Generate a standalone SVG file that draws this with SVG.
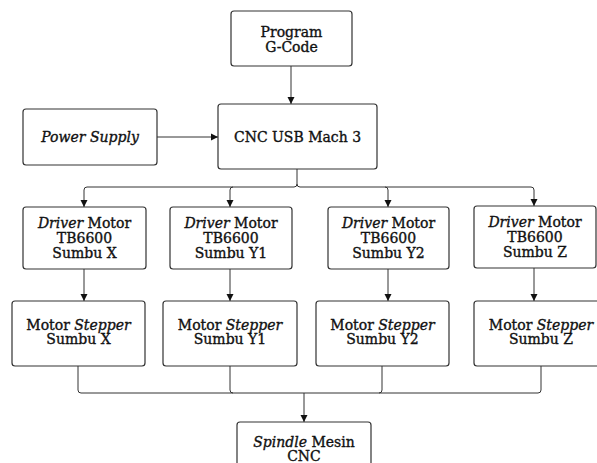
<svg xmlns="http://www.w3.org/2000/svg" width="597" height="463" viewBox="0 0 597 463">
<style>
.box{fill:#fff;stroke:#333;stroke-width:1.2}
.t{font-family:"DejaVu Serif","Liberation Serif",serif;font-size:14px;fill:#111;stroke:#111;stroke-width:0.35;text-anchor:middle}
.c{fill:none;stroke:#333;stroke-width:1}
</style>
<defs>
<marker id="ah" markerWidth="8" markerHeight="8" refX="7" refY="4" orient="auto" markerUnits="userSpaceOnUse">
<path d="M0,0.5 L7,4 L0,7.5 z" fill="#111"/>
</marker>
</defs>
<rect width="597" height="463" fill="#fff"/>
<g id="connectors">
<path class="c" d="M291,66 V104" marker-end="url(#ah)"/>
<path class="c" d="M157,137 H218" marker-end="url(#ah)"/>
<path class="c" d="M297,169 V184 Q297,187 294,187 H87 Q84,187 84,190 V207" marker-end="url(#ah)"/>
<path class="c" d="M297,184 Q297,187 300,187 H531 Q534,187 534,190 V206" marker-end="url(#ah)"/>
<path class="c" d="M230,190 Q230,187 233,187" />
<path class="c" d="M230,190 V207" marker-end="url(#ah)"/>
<path class="c" d="M385,187 Q388,187 388,190 V207" marker-end="url(#ah)"/>
<path class="c" d="M84,269 V301" marker-end="url(#ah)"/>
<path class="c" d="M230,269 V301" marker-end="url(#ah)"/>
<path class="c" d="M388,269 V301" marker-end="url(#ah)"/>
<path class="c" d="M534,268 V301" marker-end="url(#ah)"/>
<path class="c" d="M78,366 V390 Q78,393 81,393 H538 Q541,393 541,390 V366"/>
<path class="c" d="M230,366 V390 Q230,393 233,393"/>
<path class="c" d="M382,366 V390 Q382,393 379,393"/>
<path class="c" d="M304,393 V422" stroke-width="2" marker-end="url(#ah)"/>
</g>
<g id="program"><rect class="box" x="231" y="11" width="121" height="55" rx="3"/><text class="t" x="291.5" y="37">Program</text><text class="t" x="291.5" y="52">G-Code</text></g>
<g id="power"><rect class="box" x="23" y="109" width="134" height="56" rx="3"/><text class="t" x="90" y="142" font-style="italic">Power Supply</text></g>
<g id="cnc"><rect class="box" x="218" y="104" width="159" height="65" rx="3"/><text class="t" x="297.5" y="142">CNC USB Mach 3</text></g>
<g id="driverX"><rect class="box" x="23" y="207" width="123" height="62" rx="3"/><text class="t" x="84.5" y="228"><tspan font-style="italic">Driver</tspan> Motor</text><text class="t" x="84.5" y="243">TB6600</text><text class="t" x="84.5" y="258">Sumbu X</text></g>
<g id="driverY1"><rect class="box" x="170" y="207" width="122" height="62" rx="3"/><text class="t" x="231" y="228"><tspan font-style="italic">Driver</tspan> Motor</text><text class="t" x="231" y="243">TB6600</text><text class="t" x="231" y="258">Sumbu Y1</text></g>
<g id="driverY2"><rect class="box" x="328" y="207" width="121" height="62" rx="3"/><text class="t" x="388.5" y="228"><tspan font-style="italic">Driver</tspan> Motor</text><text class="t" x="388.5" y="243">TB6600</text><text class="t" x="388.5" y="258">Sumbu Y2</text></g>
<g id="driverZ"><rect class="box" x="474" y="206" width="122" height="62" rx="3"/><text class="t" x="535" y="227"><tspan font-style="italic">Driver</tspan> Motor</text><text class="t" x="535" y="242">TB6600</text><text class="t" x="535" y="257">Sumbu Z</text></g>
<g id="stepperX"><rect class="box" x="12" y="301" width="133" height="65" rx="3"/><text class="t" x="78.5" y="330">Motor <tspan font-style="italic">Stepper</tspan></text><text class="t" x="78.5" y="344">Sumbu X</text></g>
<g id="stepperY1"><rect class="box" x="163" y="301" width="134" height="65" rx="3"/><text class="t" x="230" y="330">Motor <tspan font-style="italic">Stepper</tspan></text><text class="t" x="230" y="344">Sumbu Y1</text></g>
<g id="stepperY2"><rect class="box" x="316" y="301" width="133" height="65" rx="3"/><text class="t" x="382.5" y="330">Motor <tspan font-style="italic">Stepper</tspan></text><text class="t" x="382.5" y="344">Sumbu Y2</text></g>
<g id="stepperZ"><rect class="box" x="474" y="301" width="130" height="65" rx="3"/><text class="t" x="541" y="330">Motor <tspan font-style="italic">Stepper</tspan></text><text class="t" x="541" y="344">Sumbu Z</text></g>
<g id="spindle"><rect class="box" x="237" y="422" width="134" height="60" rx="3"/><text class="t" x="304" y="447"><tspan font-style="italic">Spindle</tspan> Mesin</text><text class="t" x="304" y="461">CNC</text></g>
</svg>
